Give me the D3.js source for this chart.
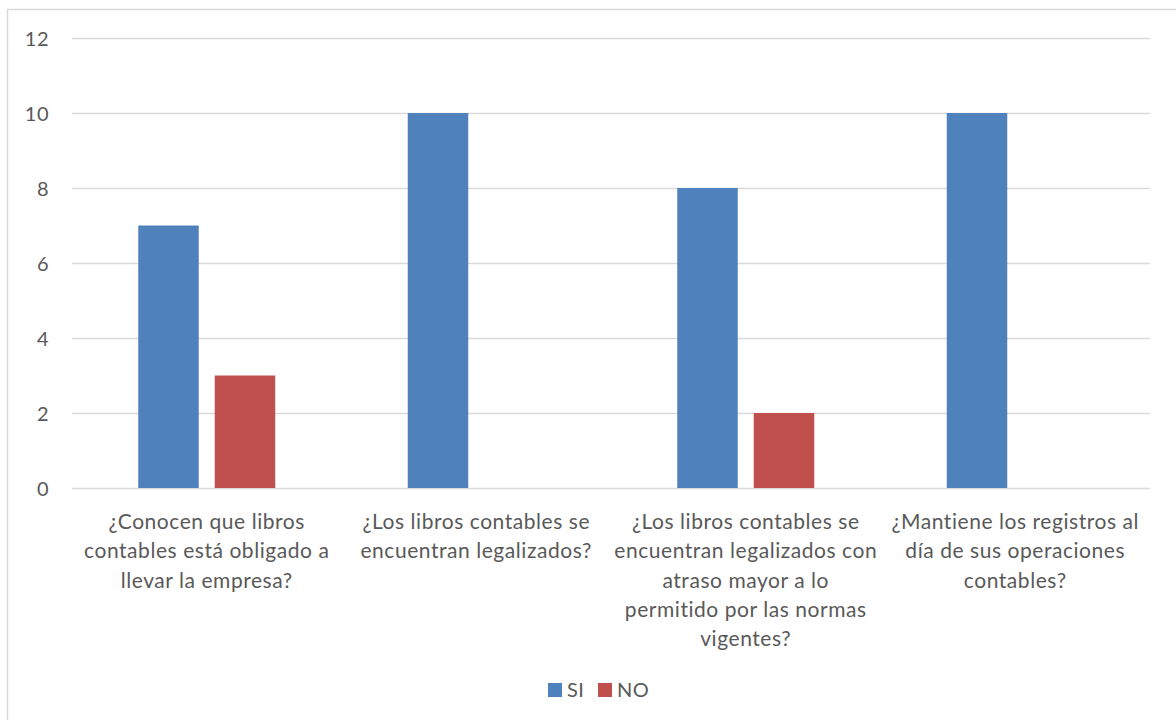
<!DOCTYPE html>
<html>
<head>
<meta charset="utf-8">
<script src="https://cdn.jsdelivr.net/npm/d3@7"></script>
<style>
  html, body { margin: 0; padding: 0; background: #fff; }
  svg text { font-family: Lato, "Open Sans", sans-serif; fill: #595959; }
</style>
</head>
<body>
<svg id="chart" width="1176" height="720"></svg>
<script>
// Survey answers per question (count of respondents)
const categories = [
  "¿Conocen que libros\ncontables está obligado a\nllevar la empresa?",
  "¿Los libros contables se\nencuentran legalizados?",
  "¿Los libros contables se\nencuentran legalizados con\natraso mayor a lo\npermitido por las normas\nvigentes?",
  "¿Mantiene los registros al\ndía de sus operaciones\ncontables?"
];
const seriesNames = ["SI", "NO"];
const siValues = [7, 10, 8, 10];
const noValues = [3, 0, 2, 0];
const yTicks = [0, 2, 4, 6, 8, 10, 12];
const colors = ["#4F81BD", "#C0504D"];

const svg = d3.select("#chart");

// outer chart frame
svg.append("rect")
  .attr("x", 7.5).attr("y", 9.5)
  .attr("width", 1176).attr("height", 720)
  .attr("fill", "none").attr("stroke", "#D9D9D9").attr("stroke-width", 1.5);

const plot = { left: 72, right: 1150, top: 38, bottom: 488 };

const x = d3.scaleBand()
  .domain(categories)
  .range([plot.left, plot.right])
  .paddingInner(0).paddingOuter(0);

const y = d3.scaleLinear()
  .domain([0, 12])
  .range([plot.bottom, plot.top]);

// horizontal gridlines
svg.append("g")
  .selectAll("line")
  .data(yTicks)
  .join("line")
  .attr("x1", plot.left).attr("x2", plot.right)
  .attr("y1", d => Math.round(y(d)) + 0.5)
  .attr("y2", d => Math.round(y(d)) + 0.5)
  .attr("stroke", "#D9D9D9").attr("stroke-width", 1.3);

// y-axis labels
const yAxis = d3.axisLeft(y).tickValues(yTicks).tickSize(0).tickPadding(0);
const yg = svg.append("g")
  .attr("transform", `translate(${plot.left - 23},0)`)
  .call(yAxis);
yg.select(".domain").remove();
yg.selectAll("text")
  .style("font-size", "20px")
  .style("letter-spacing", "0.5px")
  .attr("fill", "#595959")
  .attr("dy", "0.35em");

// bars
const barW = 60.5;
const barGap = 16;
const series = [siValues, noValues];
series.forEach((vals, si) => {
  svg.append("g")
    .selectAll("rect")
    .data(categories.map((c, i) => ({ c, v: vals[i] })))
    .join("rect")
    .attr("x", d => x(d.c) + x.bandwidth() / 2 + (si === 0 ? -(barGap / 2 + barW) : barGap / 2))
    .attr("width", barW)
    .attr("y", d => y(d.v))
    .attr("height", d => y(0) - y(d.v))
    .attr("fill", colors[si]);
});

// category labels
const xg = svg.append("g");
categories.forEach(c => {
  const lines = c.split("\n");
  const t = xg.append("text")
    .attr("text-anchor", "middle")
    .style("font-size", "21px")
    .style("letter-spacing", "0.55px");
  lines.forEach((ln, i) => {
    t.append("tspan")
      .attr("x", x(c) + x.bandwidth() / 2)
      .attr("y", 529 + i * 29.3)
      .text(ln);
  });
});

// legend
const legend = svg.append("g");
const legendItems = [
  { name: seriesNames[0], color: colors[0], x: 548 },
  { name: seriesNames[1], color: colors[1], x: 598 }
];
legendItems.forEach(it => {
  legend.append("rect")
    .attr("x", it.x).attr("y", 683)
    .attr("width", 14).attr("height", 14)
    .attr("fill", it.color);
  legend.append("text")
    .attr("x", it.x + 19).attr("y", 697)
    .style("font-size", "20px")
    .style("letter-spacing", "0.5px")
    .text(it.name);
});
</script>
</body>
</html>
